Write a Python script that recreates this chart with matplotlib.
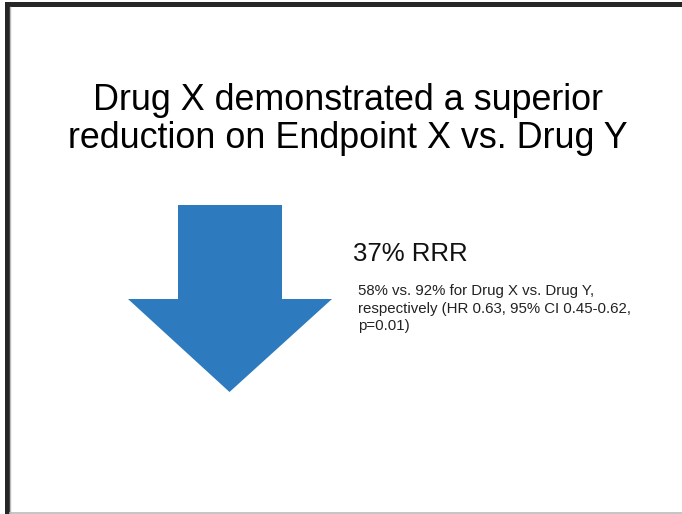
import matplotlib.pyplot as plt
from matplotlib.patches import Polygon, Rectangle

plt.rcParams['font.family'] = ['Liberation Sans', 'DejaVu Sans']

# values shown on the slide
title_lines = ['Drug X demonstrated a superior', 'reduction on Endpoint X vs. Drug Y']
rrr_pct = 37
drug_names = ['Drug X', 'Drug Y']
event_pct = [58, 92]
hr = 0.63
ci = [0.45, 0.62]
p_value = 0.01

W, H = 682, 514
fig = plt.figure(figsize=(W / 100, H / 100), dpi=100)
ax = fig.add_axes([0, 0, 1, 1])
ax.set_xlim(0, W)
ax.set_ylim(H, 0)
ax.axis('off')

# slide frame
ax.add_patch(Rectangle((5, 2), W - 5, 4.5, color='#262626', lw=0))
ax.add_patch(Rectangle((5, 2), 4.5, H - 2, color='#262626', lw=0))
ax.plot([10, 10], [6.5, 513], color='#bbbbbb', lw=1)
ax.plot([10, W], [513, 513], color='#bbbbbb', lw=1.2)

# title
for line, base in zip(title_lines, [109.5, 147.5]):
    ax.text(348, base, line, ha='center', va='baseline', fontsize=25.8, color='black')

# down arrow
arrow = [(178, 205), (282, 205), (282, 299), (332, 299), (229.5, 392),
         (128, 299), (178, 299)]
ax.add_patch(Polygon(arrow, closed=True, color='#2d7bbe', lw=0))

ax.text(353, 261, f'{rrr_pct}% RRR', ha='left', va='baseline', fontsize=18.5, color='#111111')

detail = [f'{event_pct[0]}% vs. {event_pct[1]}% for {drug_names[0]} vs. {drug_names[1]},',
          f'respectively (HR {hr:.2f}, 95% CI {ci[0]:.2f}-{ci[1]:.2f},',
          f'p={p_value:.2f})']
for line, base in zip(detail, [295, 312.5, 330]):
    ax.text(358, base, line, ha='left', va='baseline', fontsize=10.8, color='#222222')

fig.savefig('out.png', dpi=100)
